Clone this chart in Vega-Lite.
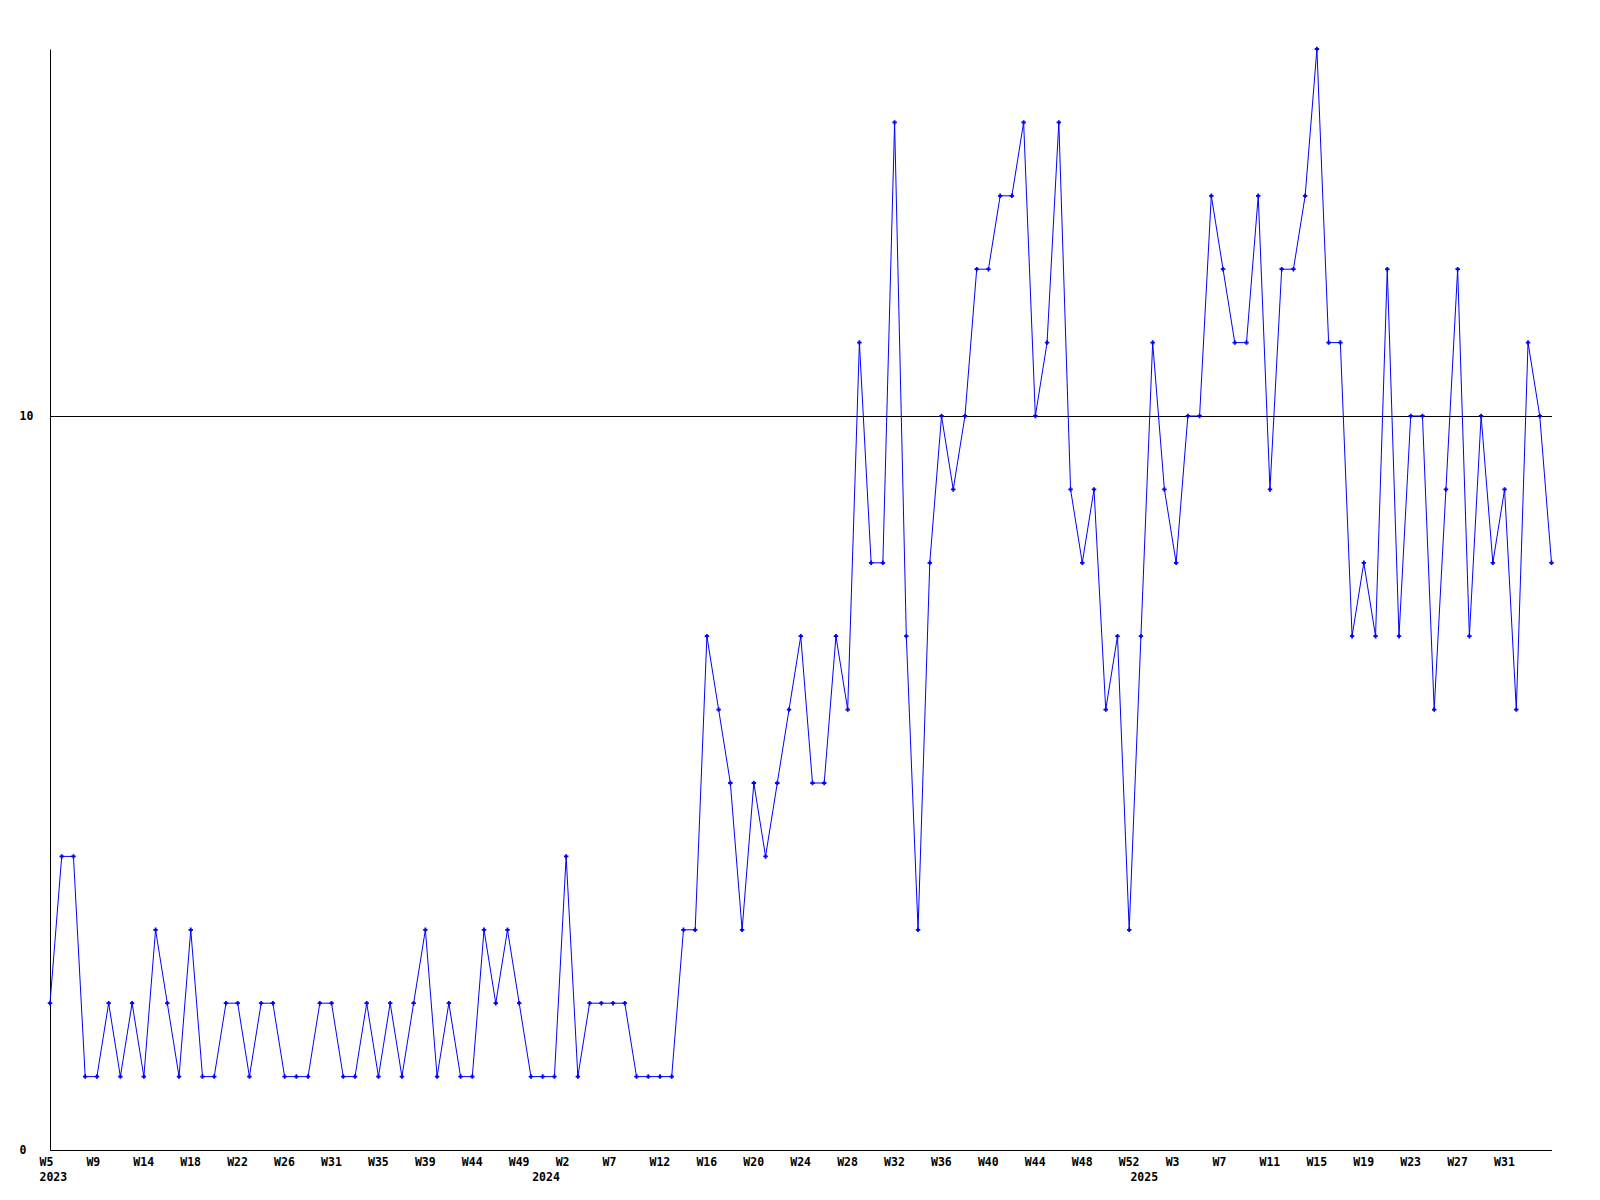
{
  "$schema": "https://vega.github.io/schema/vega-lite/v6.json",
  "width": 1501.5,
  "height": 1101,
  "autosize": {"type": "none"},
  "padding": {"left": 50, "top": 49, "right": 48.5, "bottom": 50},
  "background": "white",
  "config": {
    "view": {"stroke": null},
    "axis": {
      "labelFont": "DejaVu Sans Mono",
      "labelFontWeight": "bold",
      "labelFontSize": 11.5,
      "labelColor": "black",
      "domainColor": "black",
      "domainWidth": 1,
      "ticks": false,
      "tickSize": 0,
      "labelFlush": false,
      "labelOverlap": false,
      "labelBound": false,
      "title": null
    }
  },
  "data": {
    "values": [
      {"n": 0, "v": 2}, {"n": 1, "v": 4}, {"n": 2, "v": 4}, {"n": 3, "v": 1}, {"n": 4, "v": 1},
      {"n": 5, "v": 2}, {"n": 6, "v": 1}, {"n": 7, "v": 2}, {"n": 8, "v": 1}, {"n": 9, "v": 3},
      {"n": 10, "v": 2}, {"n": 11, "v": 1}, {"n": 12, "v": 3}, {"n": 13, "v": 1}, {"n": 14, "v": 1},
      {"n": 15, "v": 2}, {"n": 16, "v": 2}, {"n": 17, "v": 1}, {"n": 18, "v": 2}, {"n": 19, "v": 2},
      {"n": 20, "v": 1}, {"n": 21, "v": 1}, {"n": 22, "v": 1}, {"n": 23, "v": 2}, {"n": 24, "v": 2},
      {"n": 25, "v": 1}, {"n": 26, "v": 1}, {"n": 27, "v": 2}, {"n": 28, "v": 1}, {"n": 29, "v": 2},
      {"n": 30, "v": 1}, {"n": 31, "v": 2}, {"n": 32, "v": 3}, {"n": 33, "v": 1}, {"n": 34, "v": 2},
      {"n": 35, "v": 1}, {"n": 36, "v": 1}, {"n": 37, "v": 3}, {"n": 38, "v": 2}, {"n": 39, "v": 3},
      {"n": 40, "v": 2}, {"n": 41, "v": 1}, {"n": 42, "v": 1}, {"n": 43, "v": 1}, {"n": 44, "v": 4},
      {"n": 45, "v": 1}, {"n": 46, "v": 2}, {"n": 47, "v": 2}, {"n": 48, "v": 2}, {"n": 49, "v": 2},
      {"n": 50, "v": 1}, {"n": 51, "v": 1}, {"n": 52, "v": 1}, {"n": 53, "v": 1}, {"n": 54, "v": 3},
      {"n": 55, "v": 3}, {"n": 56, "v": 7}, {"n": 57, "v": 6}, {"n": 58, "v": 5}, {"n": 59, "v": 3},
      {"n": 60, "v": 5}, {"n": 61, "v": 4}, {"n": 62, "v": 5}, {"n": 63, "v": 6}, {"n": 64, "v": 7},
      {"n": 65, "v": 5}, {"n": 66, "v": 5}, {"n": 67, "v": 7}, {"n": 68, "v": 6}, {"n": 69, "v": 11},
      {"n": 70, "v": 8}, {"n": 71, "v": 8}, {"n": 72, "v": 14}, {"n": 73, "v": 7}, {"n": 74, "v": 3},
      {"n": 75, "v": 8}, {"n": 76, "v": 10}, {"n": 77, "v": 9}, {"n": 78, "v": 10}, {"n": 79, "v": 12},
      {"n": 80, "v": 12}, {"n": 81, "v": 13}, {"n": 82, "v": 13}, {"n": 83, "v": 14}, {"n": 84, "v": 10},
      {"n": 85, "v": 11}, {"n": 86, "v": 14}, {"n": 87, "v": 9}, {"n": 88, "v": 8}, {"n": 89, "v": 9},
      {"n": 90, "v": 6}, {"n": 91, "v": 7}, {"n": 92, "v": 3}, {"n": 93, "v": 7}, {"n": 94, "v": 11},
      {"n": 95, "v": 9}, {"n": 96, "v": 8}, {"n": 97, "v": 10}, {"n": 98, "v": 10}, {"n": 99, "v": 13},
      {"n": 100, "v": 12}, {"n": 101, "v": 11}, {"n": 102, "v": 11}, {"n": 103, "v": 13}, {"n": 104, "v": 9},
      {"n": 105, "v": 12}, {"n": 106, "v": 12}, {"n": 107, "v": 13}, {"n": 108, "v": 15}, {"n": 109, "v": 11},
      {"n": 110, "v": 11}, {"n": 111, "v": 7}, {"n": 112, "v": 8}, {"n": 113, "v": 7}, {"n": 114, "v": 12},
      {"n": 115, "v": 7}, {"n": 116, "v": 10}, {"n": 117, "v": 10}, {"n": 118, "v": 6}, {"n": 119, "v": 9},
      {"n": 120, "v": 12}, {"n": 121, "v": 7}, {"n": 122, "v": 10}, {"n": 123, "v": 8}, {"n": 124, "v": 9},
      {"n": 125, "v": 6}, {"n": 126, "v": 11}, {"n": 127, "v": 10}, {"n": 128, "v": 8}
    ]
  },
  "layer": [
    {
      "mark": {"type": "line", "color": "#0000ff", "strokeWidth": 1},
      "encoding": {
        "x": {
          "field": "n",
          "type": "quantitative",
          "scale": {"domain": [0, 128], "nice": false, "zero": false},
          "axis": {
            "orient": "bottom",
            "grid": false,
            "values": [0, 4, 8, 12, 16, 20, 24, 28, 32, 36, 40, 44, 48, 52, 56, 60, 64, 68, 72, 76, 80, 84, 88, 92, 96, 100, 104, 108, 112, 116, 120, 124],
            "labelExpr": "['W5','W9','W14','W18','W22','W26','W31','W35','W39','W44','W49','W2','W7','W12','W16','W20','W24','W28','W32','W36','W40','W44','W48','W52','W3','W7','W11','W15','W19','W23','W27','W31'][round(datum.value / 4)]",
            "labelAlign": "left",
            "labelOffset": -11,
            "labelBaseline": "top",
            "labelPadding": 6
          }
        },
        "y": {
          "field": "v",
          "type": "quantitative",
          "scale": {"domain": [0, 15], "nice": false, "zero": true},
          "axis": {
            "values": [0, 10],
            "format": "d",
            "grid": true,
            "gridColor": "black",
            "gridOpacity": 1,
            "gridWidth": 1,
            "labelAlign": "left",
            "labelBaseline": "middle",
            "labelPadding": 31
          }
        }
      }
    },
    {
      "mark": {"type": "point", "shape": "cross", "filled": true, "color": "#0000ff", "size": 20, "opacity": 1},
      "encoding": {
        "x": {
          "field": "n",
          "type": "quantitative",
          "axis": {
            "orient": "bottom",
            "domain": false,
            "grid": false,
            "values": [0, 42, 93],
            "labelExpr": "datum.value == 0 ? '2023' : datum.value == 42 ? '2024' : '2025'",
            "labelAlign": "left",
            "labelOffset": -11,
            "labelBaseline": "top",
            "labelPadding": 21
          }
        },
        "y": {"field": "v", "type": "quantitative"}
      }
    }
  ],
  "resolve": {"axis": {"x": "independent"}}
}
